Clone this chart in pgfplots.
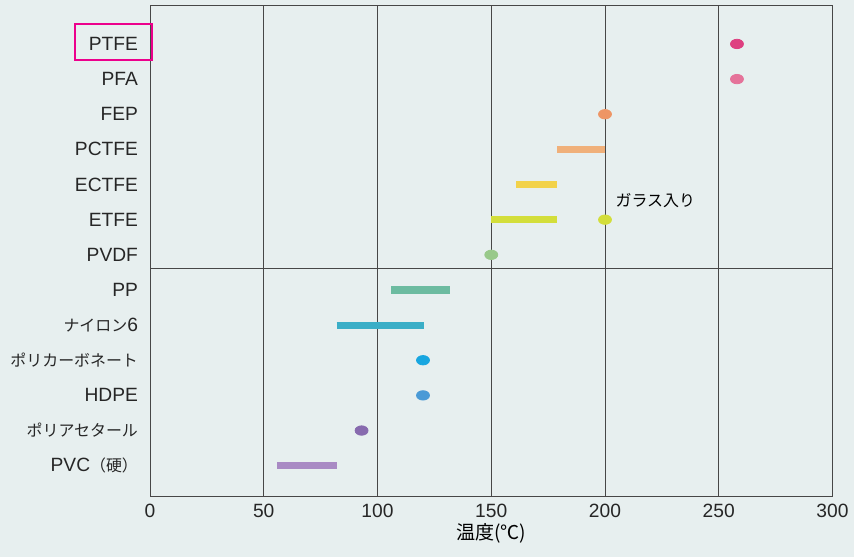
\documentclass[border=0pt]{standalone}
\usepackage{fontspec}
\setmainfont{Liberation Sans}
\newfontfamily\jp[Scale=0.83]{Noto Sans CJK JP}
\usepackage{pgfplots}
\pgfplotsset{compat=1.18}

\definecolor{paper}{HTML}{E7EFEF}
\definecolor{axiscol}{HTML}{474747}
\definecolor{cPTFE}{HTML}{DE3F80}
\definecolor{cPFA}{HTML}{E5739A}
\definecolor{cFEP}{HTML}{EE9565}
\definecolor{cPCTFE}{HTML}{F0B07A}
\definecolor{cECTFE}{HTML}{F2D24A}
\definecolor{cETFE}{HTML}{D3DE3A}
\definecolor{cPVDF}{HTML}{98C98A}
\definecolor{cPP}{HTML}{6CBBA0}
\definecolor{cNY}{HTML}{3AAEC7}
\definecolor{cPC}{HTML}{18A6E0}
\definecolor{cHDPE}{HTML}{4A9AD6}
\definecolor{cPOM}{HTML}{876AAE}
\definecolor{cPVC}{HTML}{A98AC4}

\begin{document}
\begin{tikzpicture}
  % page = 854x557 px at 0.5pt per px, axis lower left at origin
  \path[fill=paper, use as bounding box] (-75pt,-30.15pt) rectangle (352pt,248.35pt);

  \begin{axis}[
    at={(0,0)}, anchor=south west,
    scale only axis,
    width=341.25pt, height=245.35pt,
    xmin=0, xmax=300,
    ymin=0.117, ymax=14.08,
    xtick={0,50,...,300},
    ytick={1,...,13},
    yticklabels={PVC{\jp （硬）}, {\jp ポリアセタール}, HDPE, {\jp ポリカーボネート},
      {\jp ナイロン}6, PP, PVDF, ETFE, ECTFE, PCTFE, FEP, PFA, PTFE},
    major tick length=0pt,
    xmajorgrids,
    grid style={color=axiscol, line width=0.5pt},
    axis line style={color=axiscol, line width=0.5pt},
    ticklabel style={font=\fontsize{9.6}{12}\selectfont, color=black!85},
    yticklabel style={xshift=-2.5pt},
    /pgf/number format/assume math mode=true,
    xlabel={{\jp 温度(℃)}},
    xlabel style={font=\fontsize{11.5}{14}\selectfont, yshift=4pt},
    clip=false,
    bar/.style={line width=3.6pt, line cap=butt, draw=#1, mark=none},
    dot/.style={only marks, mark=*, mark size=2.35pt, color=#1,
      mark options={xscale=1.38}},
  ]
    % ranges (degC)
    \addplot[bar=cPCTFE] coordinates {(179,10)(200,10)};
    \addplot[bar=cECTFE] coordinates {(161,9)(179,9)};
    \addplot[bar=cETFE]  coordinates {(150,8)(179,8)};
    \addplot[bar=cPP]    coordinates {(106,6)(132,6)};
    \addplot[bar=cNY]    coordinates {(82,5)(120.5,5)};
    \addplot[bar=cPVC]   coordinates {(56,1)(82,1)};
    % single values
    \addplot[dot=cPTFE] coordinates {(258,13)};
    \addplot[dot=cPFA]  coordinates {(258,12)};
    \addplot[dot=cFEP]  coordinates {(200,11)};
    \addplot[dot=cETFE] coordinates {(200,8)};
    \addplot[dot=cPVDF] coordinates {(150,7)};
    \addplot[dot=cPC]   coordinates {(120,4)};
    \addplot[dot=cHDPE] coordinates {(120,3)};
    \addplot[dot=cPOM]  coordinates {(93,2)};

    \node[anchor=west, font=\jp\fontsize{9.6}{12}\selectfont, inner sep=0pt]
      at (axis cs:204.5,8.55) {ガラス入り};
    % divider between fluoropolymers and others
    \draw[axiscol, line width=0.5pt] (axis cs:0,6.62) -- (axis cs:300,6.62);
    % highlight box round PTFE
    \draw[magenta, line width=1pt]
      ([xshift=-37.5pt]axis cs:0,12.54) rectangle ([xshift=1pt]axis cs:0,13.57);
  \end{axis}
\end{tikzpicture}
\end{document}
